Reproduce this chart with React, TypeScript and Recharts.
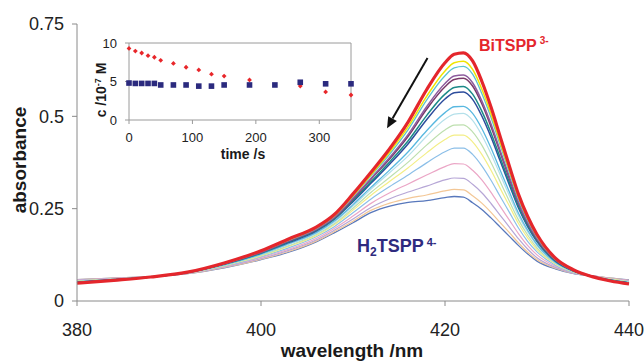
import { LineChart, Line, XAxis, YAxis, ScatterChart, Scatter, ReferenceLine } from 'recharts';

const FONT = '"Liberation Sans", Arial, sans-serif';

// wavelength grid (nm)
const wavelengths = [380, 384, 388, 392, 396, 400, 403, 406, 408, 410, 412, 414, 416, 418, 420, 421, 422, 423, 424, 425, 426, 427, 428, 429, 430, 432, 434, 436, 438, 440];

// absorbance spectra, from H2TSPP4- (first scan) up to BiTSPP3- (last scan)
const absH2TSPP = [0.058, 0.062, 0.066, 0.074, 0.090, 0.112, 0.132, 0.160, 0.185, 0.212, 0.240, 0.257, 0.267, 0.272, 0.280, 0.283, 0.281, 0.266, 0.248, 0.225, 0.200, 0.175, 0.150, 0.127, 0.108, 0.087, 0.074, 0.068, 0.062, 0.057];
const absScan2 = [0.058, 0.062, 0.066, 0.074, 0.091, 0.113, 0.134, 0.162, 0.188, 0.216, 0.246, 0.265, 0.278, 0.287, 0.298, 0.302, 0.301, 0.285, 0.265, 0.240, 0.212, 0.185, 0.157, 0.132, 0.112, 0.089, 0.075, 0.068, 0.062, 0.056];
const absScan3 = [0.057, 0.061, 0.066, 0.075, 0.092, 0.115, 0.137, 0.165, 0.192, 0.222, 0.254, 0.277, 0.295, 0.311, 0.328, 0.333, 0.332, 0.316, 0.293, 0.264, 0.232, 0.200, 0.168, 0.140, 0.117, 0.091, 0.075, 0.068, 0.061, 0.056];
const absScan4 = [0.056, 0.061, 0.066, 0.075, 0.093, 0.118, 0.140, 0.169, 0.197, 0.230, 0.265, 0.293, 0.317, 0.341, 0.364, 0.372, 0.371, 0.354, 0.328, 0.294, 0.256, 0.219, 0.182, 0.150, 0.125, 0.094, 0.076, 0.068, 0.060, 0.055];
const absScan5 = [0.055, 0.060, 0.066, 0.075, 0.094, 0.120, 0.144, 0.174, 0.202, 0.239, 0.277, 0.310, 0.341, 0.374, 0.404, 0.414, 0.414, 0.397, 0.366, 0.327, 0.283, 0.240, 0.197, 0.161, 0.133, 0.097, 0.077, 0.067, 0.059, 0.053];
const absScan6 = [0.054, 0.059, 0.066, 0.076, 0.096, 0.122, 0.148, 0.177, 0.207, 0.246, 0.287, 0.324, 0.361, 0.401, 0.437, 0.449, 0.449, 0.431, 0.397, 0.354, 0.305, 0.257, 0.209, 0.170, 0.139, 0.100, 0.078, 0.067, 0.059, 0.052];
const absScan7 = [0.053, 0.059, 0.066, 0.076, 0.097, 0.124, 0.150, 0.180, 0.210, 0.251, 0.295, 0.335, 0.376, 0.422, 0.463, 0.476, 0.477, 0.458, 0.422, 0.375, 0.323, 0.270, 0.219, 0.178, 0.144, 0.102, 0.079, 0.067, 0.058, 0.052];
const absScan8 = [0.052, 0.059, 0.065, 0.076, 0.098, 0.126, 0.153, 0.183, 0.214, 0.257, 0.304, 0.348, 0.393, 0.446, 0.492, 0.506, 0.508, 0.489, 0.449, 0.399, 0.342, 0.285, 0.230, 0.186, 0.150, 0.104, 0.080, 0.067, 0.057, 0.051];
const absScan9 = [0.052, 0.058, 0.065, 0.077, 0.098, 0.127, 0.155, 0.185, 0.217, 0.261, 0.309, 0.355, 0.404, 0.461, 0.510, 0.526, 0.527, 0.508, 0.467, 0.414, 0.354, 0.295, 0.237, 0.191, 0.153, 0.105, 0.080, 0.067, 0.057, 0.050];
const absScan10 = [0.051, 0.058, 0.065, 0.077, 0.100, 0.130, 0.158, 0.189, 0.222, 0.269, 0.320, 0.371, 0.426, 0.491, 0.547, 0.564, 0.566, 0.546, 0.501, 0.444, 0.379, 0.314, 0.251, 0.201, 0.161, 0.108, 0.081, 0.067, 0.056, 0.049];
const absScan11 = [0.050, 0.057, 0.065, 0.077, 0.100, 0.130, 0.160, 0.191, 0.223, 0.272, 0.324, 0.377, 0.434, 0.502, 0.560, 0.578, 0.581, 0.560, 0.514, 0.455, 0.388, 0.321, 0.256, 0.204, 0.163, 0.109, 0.082, 0.066, 0.056, 0.049];
const absScan12 = [0.050, 0.057, 0.065, 0.077, 0.101, 0.132, 0.162, 0.193, 0.226, 0.276, 0.331, 0.385, 0.446, 0.519, 0.580, 0.600, 0.603, 0.582, 0.534, 0.472, 0.402, 0.331, 0.264, 0.210, 0.167, 0.111, 0.082, 0.066, 0.055, 0.048];
const absScan13 = [0.050, 0.057, 0.065, 0.077, 0.101, 0.132, 0.163, 0.194, 0.227, 0.278, 0.333, 0.389, 0.451, 0.526, 0.589, 0.609, 0.612, 0.591, 0.542, 0.479, 0.407, 0.336, 0.267, 0.212, 0.169, 0.112, 0.082, 0.066, 0.055, 0.048];
const absScan14 = [0.049, 0.057, 0.065, 0.078, 0.102, 0.134, 0.165, 0.196, 0.230, 0.283, 0.340, 0.398, 0.464, 0.544, 0.610, 0.631, 0.635, 0.614, 0.562, 0.497, 0.422, 0.347, 0.275, 0.218, 0.173, 0.113, 0.083, 0.066, 0.055, 0.047];
const absScan15 = [0.049, 0.056, 0.065, 0.078, 0.102, 0.135, 0.166, 0.198, 0.232, 0.285, 0.343, 0.404, 0.472, 0.554, 0.623, 0.645, 0.649, 0.627, 0.574, 0.507, 0.430, 0.354, 0.280, 0.222, 0.176, 0.114, 0.083, 0.066, 0.054, 0.047];
const absBiTSPP = [0.048, 0.056, 0.065, 0.078, 0.103, 0.136, 0.168, 0.200, 0.235, 0.290, 0.350, 0.413, 0.485, 0.572, 0.645, 0.668, 0.672, 0.650, 0.595, 0.525, 0.445, 0.365, 0.288, 0.228, 0.180, 0.116, 0.084, 0.066, 0.054, 0.046];

const spectra = [
  { key: 's1', values: absH2TSPP, color: '#5878bc', width: 1.3 },
  { key: 's2', values: absScan2, color: '#f3c796', width: 1.2 },
  { key: 's3', values: absScan3, color: '#b6a6d6', width: 1.2 },
  { key: 's4', values: absScan4, color: '#eba6c6', width: 1.2 },
  { key: 's5', values: absScan5, color: '#8cbfe8', width: 1.2 },
  { key: 's6', values: absScan6, color: '#f3ee86', width: 1.2 },
  { key: 's7', values: absScan7, color: '#bddfae', width: 1.2 },
  { key: 's8', values: absScan8, color: '#b4e0ea', width: 1.2 },
  { key: 's9', values: absScan9, color: '#58b8e0', width: 1.3 },
  { key: 's10', values: absScan10, color: '#2c4c9c', width: 1.5 },
  { key: 's11', values: absScan11, color: '#1b8a88', width: 1.5 },
  { key: 's12', values: absScan12, color: '#7a3a6a', width: 1.5 },
  { key: 's13', values: absScan13, color: '#8d5c9e', width: 1.5 },
  { key: 's14', values: absScan14, color: '#5cc4cf', width: 1.3 },
  { key: 's15', values: absScan15, color: '#f0e400', width: 1.5 },
  { key: 's16', values: absBiTSPP, color: '#e4262c', width: 3.2 },
];

const specRows = wavelengths.map((w, i) => {
  const row: Record<string, number> = { w };
  spectra.forEach((s) => (row[s.key] = s.values[i]));
  return row;
});

// inset: concentrations (10^-7 M) vs time (s)
const timesBi = [0, 10, 20, 30, 40, 50, 70, 90, 110, 130, 150, 190, 270, 310, 350];
const concBi = [9.3, 8.95, 8.7, 8.35, 8.15, 7.75, 7.35, 6.85, 6.5, 5.95, 5.7, 5.2, 4.4, 3.65, 3.25];
const timesH2 = [0, 10, 20, 30, 40, 50, 70, 90, 110, 130, 150, 190, 230, 270, 310, 350];
const concH2 = [4.8, 4.75, 4.75, 4.75, 4.75, 4.55, 4.55, 4.55, 4.4, 4.4, 4.55, 4.55, 4.55, 4.9, 4.7, 4.7];

const biPoints = timesBi.map((t, i) => ({ t, c: concBi[i] }));
const h2Points = timesH2.map((t, i) => ({ t, c: concH2[i] }));

const Arrow = (p: any) => {
  const { x1, y1, x2, y2 } = p;
  const a = Math.atan2(y2 - y1, x2 - x1);
  const len = 11;
  const half = 5;
  const bx = x2 - len * Math.cos(a);
  const by = y2 - len * Math.sin(a);
  const pa = `${bx + half * Math.sin(a)},${by - half * Math.cos(a)}`;
  const pb = `${bx - half * Math.sin(a)},${by + half * Math.cos(a)}`;
  return (
    <g>
      <line x1={x1} y1={y1} x2={bx} y2={by} stroke="#111" strokeWidth={2} />
      <polygon points={`${x2},${y2} ${pa} ${pb}`} fill="#111" />
    </g>
  );
};

const RedDiamond = (p: any) => (
  <polygon
    points={`${p.cx},${p.cy - 2.4} ${p.cx + 2.4},${p.cy} ${p.cx},${p.cy + 2.4} ${p.cx - 2.4},${p.cy}`}
    fill="#e8262a"
  />
);

const BlueSquare = (p: any) => (
  <rect x={p.cx - 2.8} y={p.cy - 2.8} width={5.6} height={5.6} fill="#2b2a7e" />
);

export default function App() {
  return (
    <div style={{ position: 'absolute', left: 0, top: 0, width: 644, height: 363, background: '#fff', fontFamily: FONT }}>
      <LineChart width={644} height={363} data={specRows} margin={{ top: 24, right: 15, bottom: 0, left: 0 }}>
        <XAxis
          dataKey="w"
          type="number"
          domain={[380, 440]}
          ticks={[380, 400, 420, 440]}
          height={62}
          tickSize={5}
          tickMargin={17}
          stroke="#8a8a8a"
          tick={{ fill: '#222', fontSize: 18, fontFamily: FONT }}
        />
        <YAxis
          type="number"
          domain={[0, 0.75]}
          ticks={[0, 0.25, 0.5, 0.75]}
          width={77}
          tickSize={5}
          tickMargin={8}
          stroke="#8a8a8a"
          tick={{ fill: '#222', fontSize: 18, fontFamily: FONT }}
        />
        {spectra.map((s) => (
          <Line
            key={s.key}
            dataKey={s.key}
            type="monotone"
            stroke={s.color}
            strokeWidth={s.width}
            dot={false}
            isAnimationActive={false}
          />
        ))}
        <ReferenceLine
          segment={[
            { x: 418.1, y: 0.658 },
            { x: 413.7, y: 0.468 },
          ]}
          shape={Arrow}
        />
      </LineChart>

      <div style={{ position: 'absolute', left: 0, top: 0, pointerEvents: 'none' }}>
        <ScatterChart width={370} height={170} margin={{ top: 43, right: 19, bottom: 0, left: 0 }}>
          <XAxis
            dataKey="t"
            type="number"
            domain={[0, 350]}
            ticks={[0, 100, 200, 300]}
            height={50}
            tickSize={4}
            tickMargin={9}
            stroke="#9a9a9a"
            tick={{ fill: '#222', fontSize: 13, fontFamily: FONT }}
          />
          <YAxis
            dataKey="c"
            type="number"
            domain={[0, 10]}
            ticks={[0, 5, 10]}
            width={129}
            tickSize={4}
            tickMargin={8}
            stroke="#9a9a9a"
            tick={{ fill: '#222', fontSize: 13, fontFamily: FONT }}
          />
          <ReferenceLine y={10} stroke="#9a9a9a" />
          <ReferenceLine x={350} stroke="#9a9a9a" />
          <Scatter data={biPoints} shape={RedDiamond} isAnimationActive={false} />
          <Scatter data={h2Points} shape={BlueSquare} isAnimationActive={false} />
        </ScatterChart>
      </div>

      <svg width={644} height={363} style={{ position: 'absolute', left: 0, top: 0, pointerEvents: 'none' }}>
        <text x={26} y={160} transform="rotate(-90 26 160)" textAnchor="middle" fontSize={19} fontWeight="bold" fill="#1a1a1a" fontFamily={FONT}>
          absorbance
        </text>
        <text x={352} y={357} textAnchor="middle" fontSize={19} fontWeight="bold" fill="#1a1a1a" fontFamily={FONT}>
          wavelength /nm
        </text>
        <text x={479} y={51} fontSize={16} fontWeight="bold" fill="#e4262c" fontFamily={FONT}>
          BiTSPP
          <tspan dx={3} dy={-7} fontSize={10}>3-</tspan>
        </text>
        <text x={357} y={252} fontSize={18} fontWeight="bold" fill="#2e2a7e" fontFamily={FONT}>
          H
          <tspan dy={4} fontSize={12}>2</tspan>
          <tspan dy={-4}>TSPP</tspan>
          <tspan dx={3} dy={-6} fontSize={11}>4-</tspan>
        </text>
        <text x={106} y={90} transform="rotate(-90 106 90)" textAnchor="middle" fontSize={14} fontWeight="bold" fill="#1a1a1a" fontFamily={FONT}>
          c /10
          <tspan dy={-5} fontSize={9}>-7</tspan>
          <tspan dy={5}> M</tspan>
        </text>
        <text x={243} y={159} textAnchor="middle" fontSize={14} fontWeight="bold" fill="#1a1a1a" fontFamily={FONT}>
          time /s
        </text>
      </svg>
    </div>
  );
}
